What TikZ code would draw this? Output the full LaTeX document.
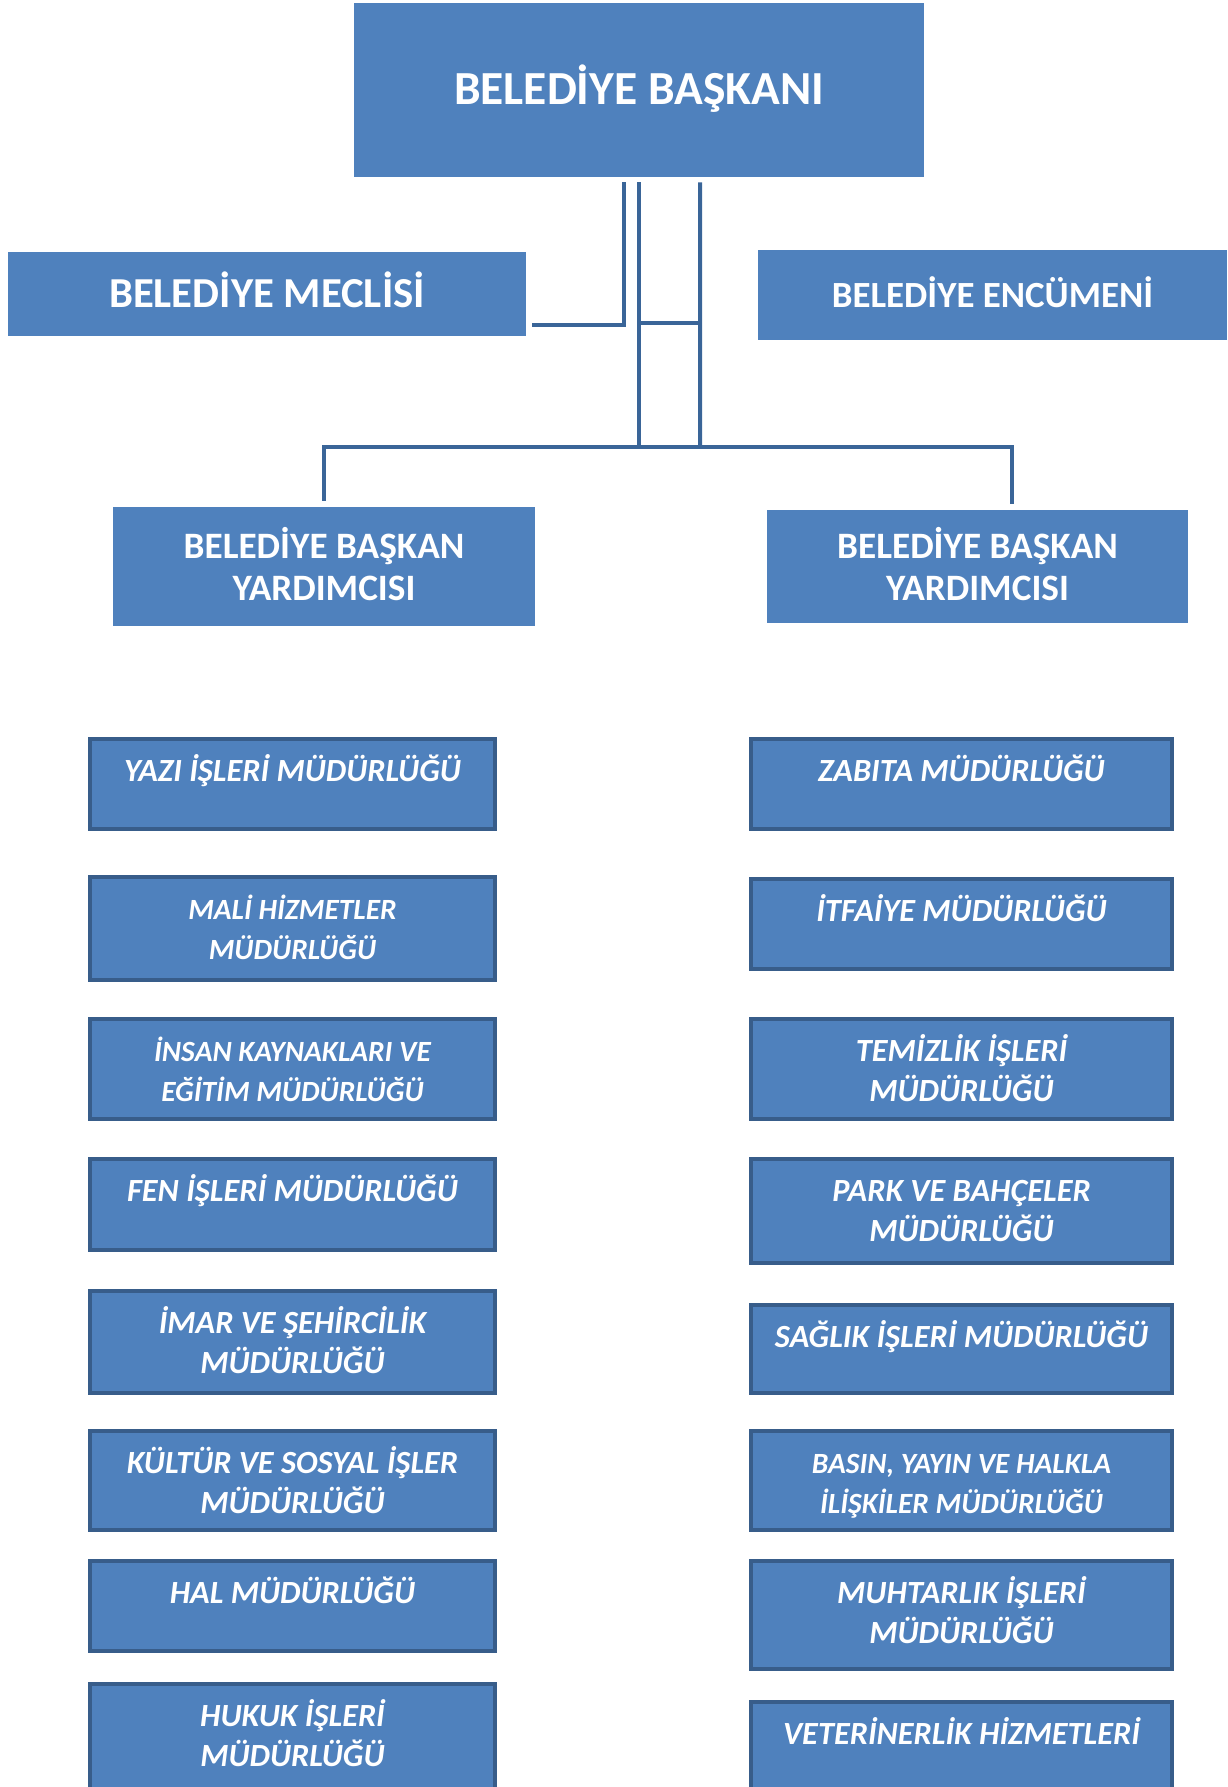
\documentclass[tikz,border=0pt]{standalone}
\usepackage{fontspec}
\setmainfont{Carlito}
\definecolor{boxblue}{HTML}{4F81BD}
\definecolor{unitedge}{HTML}{385D8A}
\definecolor{linkblue}{HTML}{3A6598}
\begin{document}
\begin{tikzpicture}[x=0.2mm,y=-0.2mm,
    head_box/.style={fill=boxblue,draw=none,text=white,font=\bfseries,align=center,inner sep=0pt},
    deputy_box/.style={head_box,align=flush center,text width=84mm,text height=6mm,text depth=9.2mm,
      font=\fontsize{21.2}{23.9}\selectfont\bfseries},
    unit_box/.style={anchor=north,draw=unitedge,line width=0.8mm,fill=boxblue,text=white,
      font=\fontsize{18.4}{22.8}\selectfont\bfseries\itshape,align=flush center,inner sep=0pt,text height=8.4mm},
    small_text/.style={font=\fontsize{16.7}{22.8}\selectfont\bfseries\itshape},
    left_unit/.style={unit_box,text width=81mm},
    right_unit/.style={unit_box,text width=84.2mm},
    link/.style={linkblue,line width=0.8mm}]
  \clip (0,0) rectangle (1228,1787);
\node[head_box,minimum width=114mm,minimum height=34.8mm,text height=7mm,text depth=1.32mm,
  font=\fontsize{27}{32}\selectfont\bfseries] (baskan) at (639,90) {BELEDİYE BAŞKANI};
\node[head_box,minimum width=103.6mm,minimum height=16.8mm,text height=6mm,text depth=0.75mm,
  font=\fontsize{24.3}{28}\selectfont\bfseries] (meclis) at (267,294) {BELEDİYE MECLİSİ};
\node[head_box,minimum width=93.8mm,minimum height=18mm,text height=6mm,text depth=1mm,
  font=\fontsize{21}{25}\selectfont\bfseries] (encumen) at (992.5,295) {BELEDİYE ENCÜMENİ};
\node[deputy_box,minimum width=84.4mm,minimum height=23.8mm] (yrd1) at (324,566.5) {BELEDİYE BAŞKAN\\YARDIMCISI};
\node[deputy_box,minimum width=84.2mm,minimum height=22.6mm] (yrd2) at (977.5,566.5) {BELEDİYE BAŞKAN\\YARDIMCISI};
\coordinate (hub) at (639,447);
\coordinate (tieL) at (639,323);
\coordinate (tieR) at (700,323);
\draw[link] ([xshift=-3mm,yshift=-1mm]baskan.south) |- ([xshift=1.2mm,yshift=-6.2mm]meclis.east);
\draw[link] ([yshift=-1mm]baskan.south) -- (hub);
\draw[link] ([xshift=12.2mm,yshift=-1mm]baskan.south) -- (tieR) -- (tieR |- hub);
\draw[link] (tieL) -- (tieR);
\draw[link] ([yshift=1.2mm]yrd1.north) |- (hub) -| ([xshift=6.9mm,yshift=1.2mm]yrd2.north);
\node[left_unit,text depth=9.6mm] (yazi) at (292.5,737) {YAZI İŞLERİ MÜDÜRLÜĞÜ};
\node[left_unit,small_text,text depth=12.2mm] (mali) at (292.5,875) {MALİ HİZMETLER\\MÜDÜRLÜĞÜ};
\node[left_unit,small_text,text depth=11.6mm] (insan) at (292.5,1017) {İNSAN KAYNAKLARI VE\\EĞİTİM MÜDÜRLÜĞÜ};
\node[left_unit,text depth=9.8mm] (fen) at (292.5,1157) {FEN İŞLERİ MÜDÜRLÜĞÜ};
\node[left_unit,text depth=12mm] (imar) at (292.5,1289) {İMAR VE ŞEHİRCİLİK\\MÜDÜRLÜĞÜ};
\node[left_unit,text depth=11.4mm] (kultur) at (292.5,1429) {KÜLTÜR VE SOSYAL İŞLER\\MÜDÜRLÜĞÜ};
\node[left_unit,text depth=9.6mm] (hal) at (292.5,1559) {HAL MÜDÜRLÜĞÜ};
\node[left_unit,text depth=15.6mm] (hukuk) at (292.5,1682) {HUKUK İŞLERİ\\MÜDÜRLÜĞÜ};
\node[right_unit,text depth=9.6mm] (zabita) at (961.5,737) {ZABITA MÜDÜRLÜĞÜ};
\node[right_unit,text depth=9.6mm] (itfaiye) at (961.5,877) {İTFAİYE MÜDÜRLÜĞÜ};
\node[right_unit,text depth=11.6mm] (temizlik) at (961.5,1017) {TEMİZLİK İŞLERİ\\MÜDÜRLÜĞÜ};
\node[right_unit,text depth=12.4mm] (park) at (961.5,1157) {PARK VE BAHÇELER\\MÜDÜRLÜĞÜ};
\node[right_unit,text depth=9.2mm] (saglik) at (961.5,1303) {SAĞLIK İŞLERİ MÜDÜRLÜĞÜ};
\node[right_unit,small_text,text depth=11.4mm] (basin) at (961.5,1429) {BASIN, YAYIN VE HALKLA\\İLİŞKİLER MÜDÜRLÜĞÜ};
\node[right_unit,text depth=13.2mm] (muhtar) at (961.5,1559) {MUHTARLIK İŞLERİ\\MÜDÜRLÜĞÜ};
\node[right_unit,text depth=15.6mm] (veteriner) at (961.5,1700) {VETERİNERLİK HİZMETLERİ};
\end{tikzpicture}
\end{document}
